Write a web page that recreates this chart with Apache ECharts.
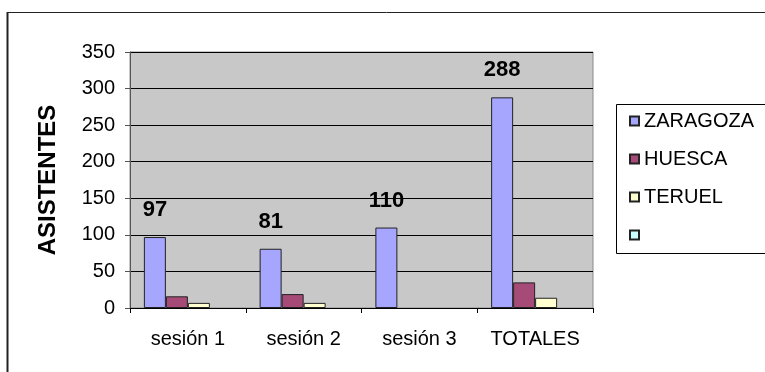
<!DOCTYPE html>
<html>
<head>
<meta charset="utf-8">
<script src="https://cdn.jsdelivr.net/npm/echarts@6/dist/echarts.min.js"></script>
<style>html,body{margin:0;padding:0;background:#fff}#c{width:765px;height:372px}</style>
</head>
<body>
<div id="c"></div>
<script>
const categories = ['sesión 1', 'sesión 2', 'sesión 3', 'TOTALES'];
const zaragoza = [97, 81, 110, 288];
const huesca = [16, 19, '-', 35];
const teruel = [7, 7, '-', 14];
const empty = ['-', '-', '-', '-'];
const seriesNames = ['ZARAGOZA', 'HUESCA', 'TERUEL', ' '];
const yTicks = { min: 0, max: 350, interval: 50 };

const colors = ['#a6a6ff', '#a64b78', '#ffffd0', '#ccffff'];
const FONT = 'Liberation Sans, Arial, sans-serif';

const chart = echarts.init(document.getElementById('c'), null, { renderer: 'canvas' });
const mk = (name, data, i, label) => ({
  name, type: 'bar', data,
  barWidth: 22, barGap: '0%', barCategoryGap: '24%',
  itemStyle: { color: colors[i], borderColor: '#222', borderWidth: 1 },
  label: label ? { show: true, position: 'top', distance: 16, fontFamily: FONT, fontSize: 22, fontWeight: 'bold', color: '#000' } : { show: false },
  emphasis: { disabled: true },
  animation: false
});
chart.setOption({
  animation: false,
  backgroundColor: '#fff',
  grid: { left: 130, right: 172, top: 52, bottom: 64, show: true, backgroundColor: '#c8c8c8', borderColor: '#8a8a8a', borderWidth: 1 },
  legend: {
    orient: 'vertical', left: 629, top: 111, itemGap: 18, itemWidth: 9, itemHeight: 9, padding: 0,
    icon: 'rect', data: seriesNames,
    textStyle: { fontFamily: FONT, fontSize: 20, color: '#000', lineHeight: 20 },
    selectedMode: false
  },
  xAxis: {
    type: 'category', data: categories,
    axisLine: { lineStyle: { color: '#000', width: 1 } },
    axisTick: { show: true, length: 5, lineStyle: { color: '#000' } },
    axisLabel: { fontFamily: FONT, fontSize: 20, color: '#000', margin: 21, interval: 0, hideOverlap: false }
  },
  yAxis: {
    type: 'value', min: yTicks.min, max: yTicks.max, interval: yTicks.interval,
    name: 'ASISTENTES', nameLocation: 'middle', nameRotate: 90, nameGap: 70,
    nameTextStyle: { fontFamily: FONT, fontSize: 24, fontWeight: 'bold', color: '#000' },
    axisLine: { show: true, lineStyle: { color: '#555', width: 1 } },
    axisTick: { show: true, length: 5, lineStyle: { color: '#555' } },
    axisLabel: { fontFamily: FONT, fontSize: 20, color: '#000', margin: 15 },
    splitLine: { show: true, lineStyle: { color: '#000', width: 1 } }
  },
  graphic: [
    { type: 'line', shape: { x1: 7, y1: 12.5, x2: 790, y2: 12.5 }, style: { stroke: '#222', lineWidth: 1 }, silent: true },
    { type: 'line', shape: { x1: 7.5, y1: 12, x2: 7.5, y2: 380 }, style: { stroke: '#222', lineWidth: 2 }, silent: true },
    { type: 'line', shape: { x1: 616.5, y1: 104.5, x2: 790, y2: 104.5 }, style: { stroke: '#000', lineWidth: 1 }, silent: true },
    { type: 'line', shape: { x1: 616.5, y1: 253.5, x2: 790, y2: 253.5 }, style: { stroke: '#000', lineWidth: 1 }, silent: true },
    { type: 'line', shape: { x1: 616.5, y1: 104.5, x2: 616.5, y2: 253.5 }, style: { stroke: '#000', lineWidth: 1 }, silent: true }
  ],
  series: [
    mk(seriesNames[0], zaragoza, 0, true),
    mk(seriesNames[1], huesca, 1, false),
    mk(seriesNames[2], teruel, 2, false),
    mk(seriesNames[3], empty, 3, false)
  ]
});
</script>
</body>
</html>
